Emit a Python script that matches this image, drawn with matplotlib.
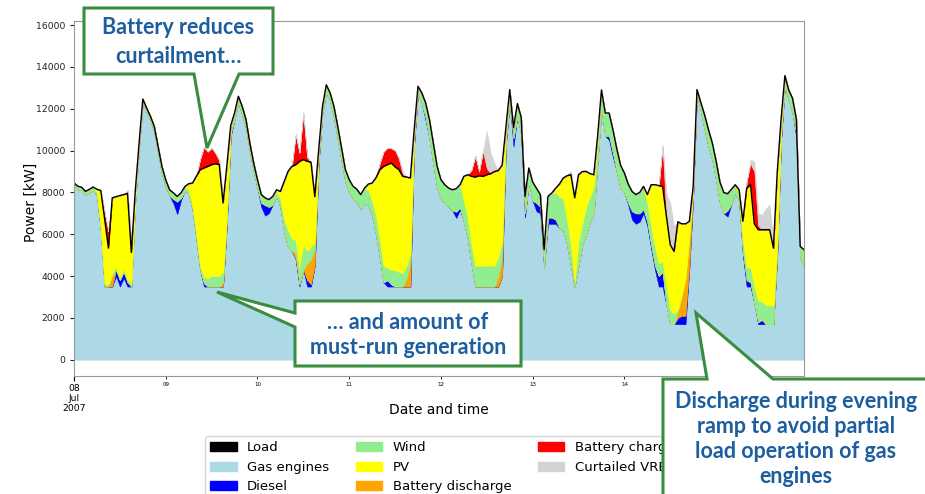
import matplotlib
matplotlib.use('Agg')
import matplotlib.pyplot as plt
import matplotlib.dates as mdates
from matplotlib.patches import Polygon, Patch
import pandas as pd

# Hourly dispatch of the hybrid system, 08-15 Jul 2007 (kW)
load = [
    8450, 8300, 8250, 8050, 8150, 8260, 8150, 8100, 6750, 5340, 7740, 7800, 7850, 7900, 7950, 5130, 8000, 10300, 12470, 12040, 11640, 11160, 10200, 9250,
    8600, 8130, 7980, 7810, 7980, 8280, 8420, 8450, 8770, 9090, 9170, 9250, 9330, 9380, 9330, 7500, 9300, 11200, 11800, 12600, 12120, 11480, 10370, 9410,
    8610, 7900, 7740, 7660, 7810, 8130, 8050, 8530, 9010, 9250, 9330, 9490, 9570, 9490, 9450, 7800, 10000, 12100, 13150, 12760, 12120, 11160, 10130, 9090,
    8610, 8300, 8150, 7900, 8200, 8400, 8450, 8700, 9090, 9250, 9330, 9410, 9220, 9090, 8770, 8740, 8690, 11000, 13080, 12760, 12280, 11480, 10370, 9250,
    8610, 8370, 8210, 8130, 8180, 8370, 8770, 8850, 8770, 8740, 8800, 8770, 8850, 8900, 9000, 9050, 9300, 11100, 12920, 11100, 12250, 11600, 7800, 9170,
    8500, 8200, 7900, 5260, 7810, 7970, 8200, 8400, 8690, 8800, 8850, 7750, 8850, 9000, 9010, 8900, 8850, 10700, 12900, 11800, 11800, 11000, 10100, 9300,
    8930, 8400, 8050, 7900, 8000, 8290, 7900, 8370, 8370, 8330, 8290, 6860, 5500, 5180, 6600, 6500, 6500, 6620, 8290, 12920, 12300, 11700, 11000, 10370,
    9500, 8500, 8000, 7940, 8150, 8370, 8130, 6620, 8210, 8370, 6500, 6220, 6220, 6220, 6220, 5340, 9000, 11500, 13590, 12900, 12500, 11500, 5420, 5260,
]
gas = [
    8300, 8150, 8100, 7900, 8000, 8100, 7850, 6200, 3500, 3500, 3500, 4000, 3500, 3900, 3500, 3500, 7500, 10100, 12300, 11840, 11440, 10900, 9900, 8900,
    8300, 7830, 7480, 6960, 7630, 8080, 7970, 7200, 5800, 4300, 3500, 3500, 3500, 3500, 3500, 3500, 6500, 10700, 11500, 12300, 11720, 11080, 9970, 9010,
    8210, 7300, 6890, 7010, 7410, 7830, 7300, 6100, 5400, 5200, 4800, 3500, 4300, 3500, 3500, 4500, 9400, 11800, 12800, 12360, 11620, 10560, 9530, 8490,
    8010, 7700, 7550, 7200, 7500, 7400, 6900, 6000, 4900, 3700, 3500, 3500, 3500, 3500, 3500, 3500, 3500, 10300, 12780, 12260, 11430, 10580, 9370, 8250,
    7710, 7470, 7310, 7130, 6780, 7170, 6600, 5800, 4600, 3500, 3500, 3500, 3500, 3500, 3500, 3500, 4000, 10300, 12300, 10200, 11650, 10800, 6800, 8470,
    7600, 7100, 7000, 4400, 6500, 6500, 6500, 6300, 6200, 5500, 4500, 3500, 4500, 5500, 6000, 6600, 7000, 9500, 12000, 10700, 10500, 9700, 9000, 8200,
    8000, 7400, 6700, 6500, 6600, 7000, 6400, 5300, 4300, 3500, 3500, 2600, 1700, 1700, 1700, 1700, 1700, 4400, 7800, 12700, 11900, 11000, 10200, 9570,
    8600, 7500, 7000, 6840, 7450, 7970, 7630, 5000, 3500, 3500, 2700, 1700, 1700, 1700, 1700, 1700, 5000, 10500, 13100, 12400, 11800, 10600, 4900, 4500,
]
diesel = [
    0, 0, 0, 0, 0, 0, 0, 0, 0, 0, 0, 300, 300, 300, 200, 0, 0, 0, 0, 0, 0, 0, 0, 0,
    0, 0, 200, 600, 100, 0, 0, 0, 0, 0, 150, 0, 0, 0, 0, 0, 0, 0, 0, 0, 0, 0, 0, 0,
    0, 200, 500, 300, 0, 0, 0, 0, 0, 0, 0, 100, 0, 300, 100, 0, 0, 0, 0, 0, 0, 0, 0, 0,
    0, 0, 0, 0, 0, 0, 0, 0, 0, 0, 300, 100, 0, 0, 0, 0, 0, 0, 0, 0, 150, 0, 0, 0,
    0, 0, 0, 0, 300, 100, 0, 0, 0, 0, 0, 0, 0, 0, 0, 0, 0, 0, 0, 400, 0, 0, 200, 0,
    0, 400, 300, 0, 300, 300, 200, 0, 0, 0, 0, 0, 0, 0, 0, 0, 0, 0, 0, 0, 200, 200, 0, 0,
    0, 100, 400, 500, 400, 200, 200, 200, 200, 500, 700, 0, 0, 0, 300, 400, 400, 0, 0, 0, 0, 0, 0, 0,
    0, 0, 0, 300, 0, 0, 0, 200, 300, 200, 0, 100, 200, 0, 0, 0, 0, 0, 0, 0, 0, 200, 0, 0,
]
discharge = [
    0, 0, 0, 0, 0, 0, 0, 0, 0, 0, 500, 0, 0, 0, 0, 0, 0, 0, 0, 0, 0, 0, 0, 0,
    0, 0, 0, 0, 0, 0, 0, 0, 0, 0, 0, 0, 0, 0, 0, 200, 300, 200, 0, 0, 0, 0, 0, 0,
    0, 0, 0, 0, 0, 0, 0, 0, 0, 0, 300, 0, 0, 800, 1200, 800, 200, 0, 0, 0, 0, 0, 0, 0,
    0, 0, 0, 0, 0, 0, 0, 0, 0, 0, 0, 0, 0, 0, 0, 400, 1200, 300, 0, 0, 0, 0, 0, 0,
    0, 0, 0, 0, 0, 0, 0, 0, 0, 0, 0, 0, 0, 0, 0, 500, 1000, 300, 0, 0, 0, 0, 0, 0,
    0, 0, 0, 0, 0, 0, 0, 0, 0, 0, 0, 0, 0, 0, 0, 0, 0, 0, 0, 0, 0, 0, 0, 0,
    0, 0, 0, 0, 0, 0, 0, 0, 0, 0, 0, 0, 0, 0, 300, 900, 1800, 1500, 300, 0, 0, 0, 0, 0,
    0, 0, 0, 0, 0, 0, 0, 0, 0, 0, 0, 0, 0, 0, 0, 0, 400, 300, 0, 0, 0, 0, 0, 0,
]
wind = [
    150, 150, 150, 150, 150, 160, 150, 100, 100, 100, 150, 150, 150, 150, 150, 100, 100, 100, 170, 200, 200, 260, 300, 350,
    300, 300, 300, 250, 250, 200, 150, 150, 250, 200, 300, 400, 500, 500, 500, 500, 200, 200, 300, 300, 400, 400, 400, 400,
    400, 400, 350, 350, 400, 200, 400, 600, 800, 600, 600, 800, 1200, 600, 600, 300, 200, 300, 350, 400, 500, 600, 600, 600,
    600, 600, 600, 700, 700, 700, 700, 900, 900, 800, 600, 700, 800, 700, 650, 600, 400, 300, 300, 500, 700, 900, 1000, 1000,
    900, 900, 900, 1000, 1100, 1100, 1000, 1000, 900, 1000, 1000, 1000, 1000, 1000, 1000, 900, 700, 400, 620, 500, 600, 800, 800, 700,
    900, 700, 600, 860, 1010, 1170, 1300, 1500, 1500, 1200, 1000, 250, 1200, 1000, 1300, 1200, 1300, 1000, 900, 1100, 1100, 1100, 1100, 1100,
    930, 900, 950, 900, 1000, 1000, 900, 900, 900, 600, 500, 900, 700, 500, 100, 100, 0, 0, 0, 220, 400, 700, 800, 800,
    900, 1000, 1000, 800, 700, 400, 200, 600, 600, 700, 800, 1000, 900, 900, 900, 900, 200, 300, 490, 500, 700, 700, 520, 760,
]
pv = [
    0, 0, 0, 0, 0, 0, 150, 1800, 3150, 1740, 3590, 3350, 3900, 3550, 4100, 1530, 400, 100, 0, 0, 0, 0, 0, 0,
    0, 0, 0, 0, 0, 0, 300, 1100, 2720, 4590, 5220, 5350, 5330, 5380, 5330, 3300, 2300, 100, 0, 0, 0, 0, 0, 0,
    0, 0, 0, 0, 0, 100, 350, 1830, 2810, 3450, 3630, 5090, 4070, 4290, 4050, 2200, 200, 0, 0, 0, 0, 0, 0, 0,
    0, 0, 0, 0, 0, 300, 850, 1800, 3290, 4750, 4930, 5110, 4920, 4890, 4620, 4240, 3590, 100, 0, 0, 0, 0, 0, 0,
    0, 0, 0, 0, 0, 0, 1170, 2050, 3270, 4240, 4300, 4270, 4350, 4400, 4500, 4150, 3600, 100, 0, 0, 0, 0, 0, 0,
    0, 0, 0, 0, 0, 0, 200, 600, 990, 2100, 3350, 4000, 3150, 2500, 1710, 1100, 550, 200, 0, 0, 0, 0, 0, 0,
    0, 0, 0, 0, 0, 90, 400, 1970, 2970, 3730, 3590, 3360, 3100, 2980, 4200, 3400, 2600, 720, 190, 0, 0, 0, 0, 0,
    0, 0, 0, 0, 0, 0, 300, 820, 3810, 3970, 3000, 3420, 3420, 3620, 3620, 2740, 3400, 400, 0, 0, 0, 0, 0, 0,
]
charge = [
    0, 0, 0, 0, 0, 0, 0, 0, 300, 800, 0, 0, 0, 0, 150, 300, 0, 0, 0, 0, 0, 0, 0, 0,
    0, 0, 0, 0, 0, 0, 0, 0, 0, 500, 1000, 700, 800, 500, 200, 0, 0, 0, 0, 0, 0, 0, 0, 0,
    0, 0, 0, 0, 0, 0, 0, 0, 0, 0, 1400, 400, 2200, 200, 0, 0, 0, 0, 0, 0, 0, 0, 0, 0,
    0, 0, 0, 0, 0, 0, 0, 0, 300, 700, 800, 700, 800, 500, 100, 0, 0, 0, 0, 0, 0, 0, 0, 0,
    0, 0, 0, 0, 0, 0, 0, 0, 300, 1000, 200, 1200, 300, 0, 0, 0, 0, 0, 0, 0, 0, 0, 0, 0,
    0, 0, 0, 0, 0, 0, 0, 0, 0, 0, 150, 0, 0, 0, 0, 0, 0, 0, 0, 0, 0, 0, 0, 0,
    0, 0, 0, 0, 0, 0, 0, 0, 0, 0, 1900, 0, 0, 0, 0, 0, 0, 0, 0, 0, 0, 0, 0, 0,
    0, 0, 0, 0, 0, 0, 0, 0, 300, 1000, 2500, 200, 0, 0, 0, 0, 0, 0, 0, 0, 0, 0, 0, 0,
]
curtailed = [
    0, 0, 0, 0, 0, 0, 0, 0, 0, 0, 0, 0, 0, 0, 0, 0, 0, 0, 0, 0, 0, 0, 0, 0,
    0, 0, 0, 0, 0, 0, 0, 0, 0, 0, 0, 0, 0, 0, 0, 0, 0, 0, 0, 0, 0, 0, 0, 0,
    0, 0, 0, 0, 0, 0, 0, 0, 0, 0, 100, 0, 100, 0, 0, 0, 0, 0, 0, 0, 0, 0, 0, 0,
    0, 0, 0, 0, 0, 0, 0, 0, 0, 0, 0, 0, 0, 100, 150, 0, 0, 0, 0, 0, 0, 0, 0, 0,
    0, 0, 0, 0, 0, 0, 0, 0, 0, 0, 0, 0, 1800, 1000, 400, 0, 0, 0, 0, 0, 0, 0, 0, 0,
    0, 0, 0, 0, 0, 0, 0, 0, 0, 0, 0, 0, 0, 0, 0, 0, 0, 0, 0, 0, 0, 0, 0, 0,
    0, 0, 0, 0, 0, 0, 0, 0, 0, 0, 100, 1100, 2000, 1200, 0, 0, 0, 0, 0, 0, 0, 0, 0, 0,
    0, 0, 0, 0, 0, 0, 0, 0, 0, 200, 500, 600, 700, 1000, 1200, 300, 0, 0, 0, 0, 0, 0, 0, 0,
]

labels = ['Load', 'Gas engines', 'Diesel', 'Wind', 'PV', 'Battery discharge',
          'Battery charge', 'Curtailed VRE']
colors = {'Load': 'black', 'Gas engines': 'lightblue', 'Diesel': 'blue',
          'Wind': 'lightgreen', 'PV': 'yellow', 'Battery discharge': 'orange',
          'Battery charge': 'red', 'Curtailed VRE': 'lightgray'}

times = pd.date_range('2007-07-08 00:00', periods=len(load), freq='h')
x = mdates.date2num(times.to_pydatetime())

W, H = 925, 494


def fig_xy(px, py):
    # pixel position (from top left) -> figure fraction
    return px / W, 1 - py / H


fig = plt.figure(figsize=(W / 100, H / 100), dpi=100)
ax = fig.add_axes([74 / W, 1 - 376 / H, 730 / W, 355 / H])

# supply stack (sums to load), then storage charging and curtailment on top
stack = [('Gas engines', gas), ('Diesel', diesel), ('Battery discharge', discharge),
         ('Wind', wind), ('PV', pv), ('Battery charge', charge),
         ('Curtailed VRE', curtailed)]
polys = ax.stackplot(x, *[v for _, v in stack],
                     colors=[colors[k] for k, _ in stack], linewidth=0.4)
for p in polys:
    p.set_edgecolor(p.get_facecolor())
ax.plot(x, load, color='black', lw=1.0)

ax.set_xlim(x[0], x[-1])
ax.set_ylim(-780, 16200)
ax.set_yticks(range(0, 16001, 2000))
ax.tick_params(axis='y', labelsize=6.7, colors='#222222', length=3)

days = pd.date_range('2007-07-08', '2007-07-15', freq='D')
ax.set_xticks([mdates.date2num(days[0].to_pydatetime())])
ax.set_xticklabels(['08\nJul\n2007'], fontsize=6.7)
ax.set_xticks(mdates.date2num(days[1:].to_pydatetime()), minor=True)
ax.set_xticklabels([d.strftime('%d') for d in days[1:]], minor=True, fontsize=4)
ax.tick_params(axis='x', which='major', length=3.5, pad=2)
ax.tick_params(axis='x', which='minor', length=2, pad=2)
for s in ax.spines.values():
    s.set_color('#999999')

ax.set_ylabel('Power [kW]', fontsize=10)
ax.yaxis.set_label_coords(-0.05, 0.49)
ax.set_xlabel('Date and time', fontsize=10)
ax.xaxis.set_label_coords(0.5, -0.075)

handles = [Patch(facecolor=colors[k], edgecolor=colors[k]) for k in labels]
fig.legend(handles, labels, ncol=3, loc='upper left',
           bbox_to_anchor=fig_xy(205, 436), borderaxespad=0, fontsize=9.5)

# callouts
green = '#3A8C3F'
blue_txt = '#1D5E9E'
callouts = [
    ([(84, 8), (273, 8), (273, 74), (239, 74), (207, 148), (194, 74), (84, 74)],
     (178, 42), 'Battery reduces\ncurtailment\u2026', 1.45),
    ([(295, 301), (521, 301), (521, 366), (295, 366), (295, 327), (217, 292), (295, 313)],
     (408, 335), '\u2026 and amount of\nmust-run generation', 1.25),
    ([(663, 379), (707, 379), (696, 313), (773, 379), (940, 379), (940, 520), (663, 520)],
     (796, 439), 'Discharge during evening\nramp to avoid partial\nload operation of gas\nengines', 1.25),
]
for pts, (tx, ty), txt, spacing in callouts:
    poly = Polygon([fig_xy(px, py) for px, py in pts], closed=True,
                   transform=fig.transFigure, facecolor='white',
                   edgecolor=green, linewidth=2.2, zorder=10, joinstyle='miter')
    fig.add_artist(poly)
    fig.text(*fig_xy(tx, ty), txt, ha='center', va='center', fontsize=15.5,
             fontweight='bold', family='Lato', color=blue_txt,
             linespacing=spacing, zorder=11)

fig.savefig('out.png', dpi=100)
